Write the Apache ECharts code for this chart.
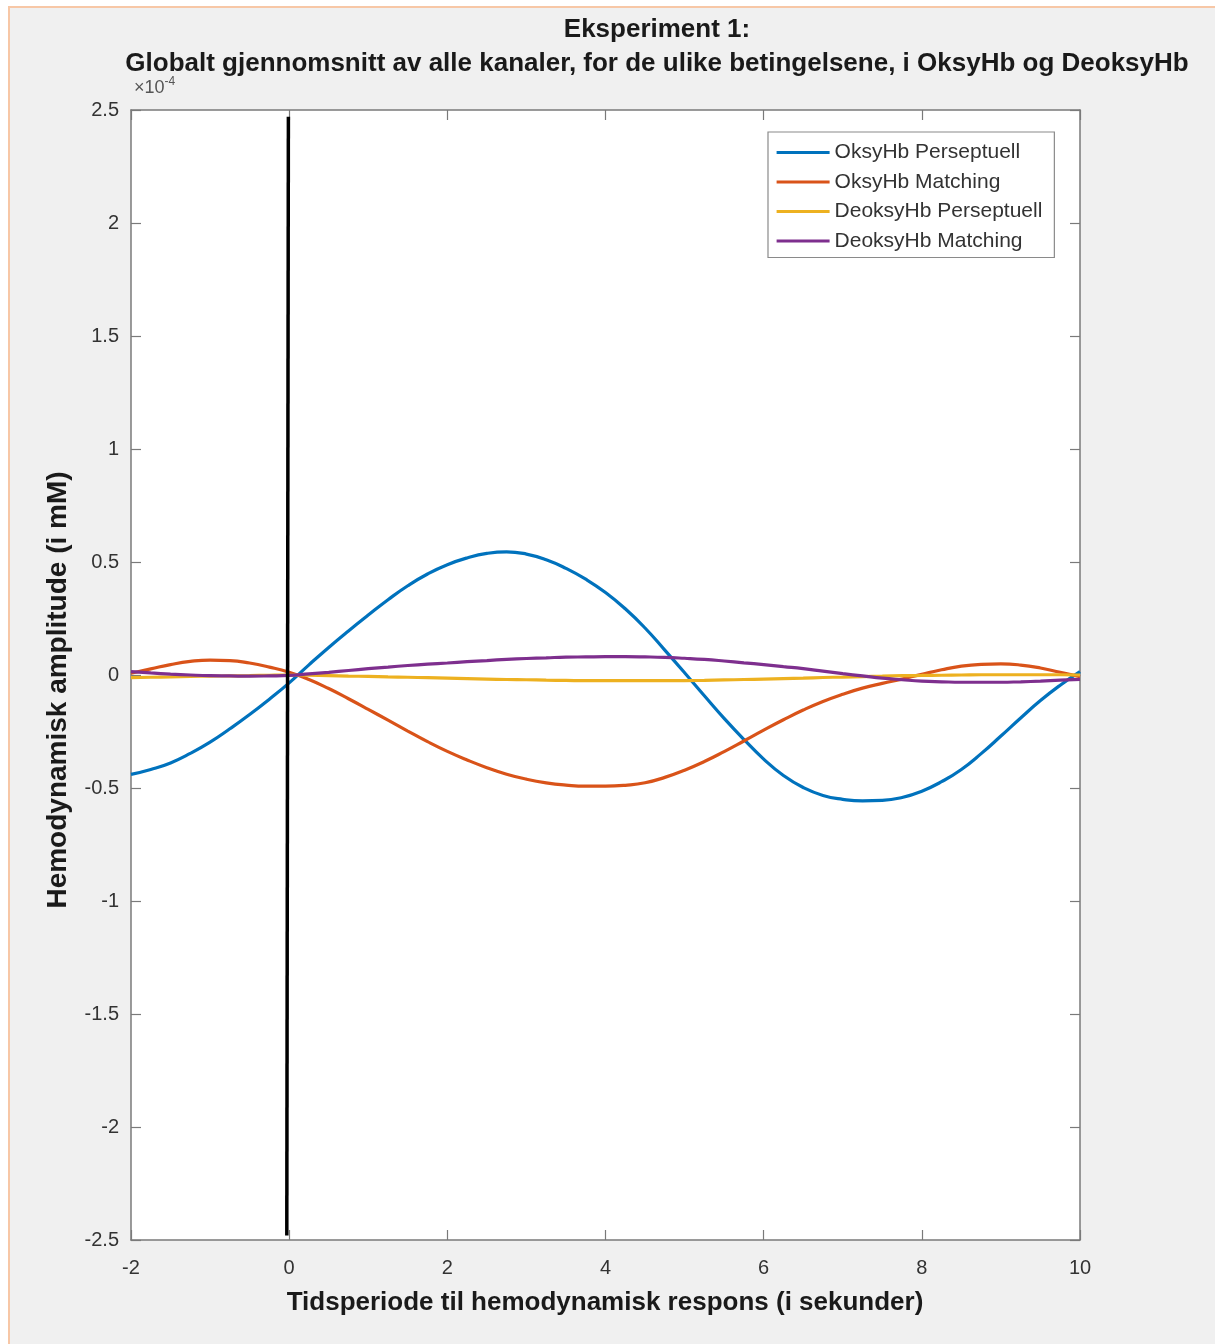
<!DOCTYPE html>
<html>
<head>
<meta charset="utf-8">
<script src="https://cdn.jsdelivr.net/npm/echarts@6/dist/echarts.min.js"></script>
<style>
  html, body { margin: 0; padding: 0; background: #ffffff; }
  #bg { position: absolute; left: 8px; top: 6px; width: 1207px; height: 1338px; background: #f0f0f0; border-left: 2px solid #f7c7a6; border-top: 2px solid #f7c7a6; box-sizing: border-box; }
  #chart { position: absolute; left: 0; top: 0; width: 1215px; height: 1344px; }
</style>
</head>
<body>
<div id="bg"></div>
<div id="chart"></div>
<script>
// Time (seconds)
const timeSec = [-2, -1.75, -1.5, -1.25, -1, -0.75, -0.5, -0.25, 0, 0.25, 0.5, 0.75, 1, 1.25, 1.5, 1.75, 2, 2.25, 2.5, 2.75, 3, 3.25, 3.5, 3.75, 4, 4.25, 4.5, 4.75, 5, 5.25, 5.5, 5.75, 6, 6.25, 6.5, 6.75, 7, 7.25, 7.5, 7.75, 8, 8.25, 8.5, 8.75, 9, 9.25, 9.5, 9.75, 10];
// Amplitudes in units of 1e-4 mM
const oksyPerseptuell = [-0.44, -0.418, -0.389, -0.347, -0.297, -0.238, -0.175, -0.107, -0.035, 0.045, 0.122, 0.195, 0.265, 0.333, 0.395, 0.447, 0.488, 0.518, 0.538, 0.545, 0.535, 0.51, 0.472, 0.424, 0.365, 0.293, 0.208, 0.11, 0.01, -0.092, -0.192, -0.285, -0.372, -0.445, -0.498, -0.533, -0.55, -0.557, -0.555, -0.542, -0.514, -0.472, -0.418, -0.348, -0.27, -0.19, -0.113, -0.045, 0.015];
const oksyMatching = [0.008, 0.027, 0.046, 0.06, 0.066, 0.064, 0.053, 0.035, 0.012, -0.02, -0.06, -0.105, -0.152, -0.2, -0.248, -0.295, -0.338, -0.376, -0.41, -0.439, -0.461, -0.477, -0.487, -0.492, -0.492, -0.488, -0.477, -0.453, -0.421, -0.383, -0.339, -0.292, -0.244, -0.198, -0.155, -0.117, -0.085, -0.058, -0.037, -0.018, 0.003, 0.023, 0.039, 0.047, 0.049, 0.044, 0.031, 0.012, -0.007];
const deoksyPerseptuell = [-0.012, -0.01, -0.008, -0.006, -0.005, -0.004, -0.003, -0.001, 0, -0.001, -0.003, -0.005, -0.006, -0.008, -0.01, -0.012, -0.014, -0.016, -0.018, -0.02, -0.021, -0.023, -0.024, -0.025, -0.025, -0.025, -0.025, -0.025, -0.025, -0.024, -0.022, -0.02, -0.018, -0.016, -0.014, -0.011, -0.009, -0.007, -0.005, -0.003, -0.002, -0.001, 0, 0.001, 0.001, 0.001, 0.001, 0.001, 0];
const deoksyMatching = [0.015, 0.009, 0.004, 0, -0.003, -0.004, -0.005, -0.004, -0.002, 0.005, 0.012, 0.02, 0.028, 0.035, 0.042, 0.048, 0.053, 0.059, 0.064, 0.069, 0.073, 0.076, 0.079, 0.08, 0.081, 0.081, 0.08, 0.078, 0.074, 0.069, 0.062, 0.054, 0.046, 0.037, 0.028, 0.017, 0.006, -0.004, -0.014, -0.021, -0.027, -0.03, -0.032, -0.032, -0.032, -0.03, -0.027, -0.023, -0.019];
// Vertical onset marker endpoints
const onsetX = [-0.01, -0.03];
const onsetY = [2.47, -2.48];

const seriesNames = ['OksyHb Perseptuell', 'OksyHb Matching', 'DeoksyHb Perseptuell', 'DeoksyHb Matching'];
const seriesValues = [oksyPerseptuell, oksyMatching, deoksyPerseptuell, deoksyMatching];
const seriesColors = ['#0072BD', '#D95319', '#EDB120', '#7E2F8E'];

const xTicks = { min: -2, max: 10, interval: 2 };
const yTicks = { min: -2.5, max: 2.5, interval: 0.5 };

const font = 'Liberation Sans, Arial, Helvetica, sans-serif';
const axisColor = '#7a7a7a';
const textColor = '#333333';

function axisCommon(showLabel, position) {
  return {
    position: position,
    axisLine: { show: true, onZero: false, lineStyle: { color: axisColor, width: 1.5 } },
    axisTick: { show: true, inside: true, length: 10, lineStyle: { color: axisColor, width: 1.2 } },
    splitLine: { show: false },
    axisLabel: { show: showLabel, color: textColor, fontSize: 20, fontFamily: font }
  };
}

const chart = echarts.init(document.getElementById('chart'), null, { renderer: 'canvas' });

const lineSeries = seriesNames.map((name, i) => ({
  name: name,
  type: 'line',
  data: timeSec.map((t, j) => [t, seriesValues[i][j]]),
  smooth: 0.5,
  showSymbol: false,
  symbol: 'none',
  color: seriesColors[i],
  lineStyle: { width: 3.2, color: seriesColors[i] },
  z: 3
}));

lineSeries.push({
  name: 'onset',
  type: 'line',
  data: onsetX.map((x, i) => [x, onsetY[i]]),
  showSymbol: false,
  symbol: 'none',
  lineStyle: { width: 3.5, color: '#000000' },
  z: 4,
  silent: true
});

const option = {
  animation: false,
  backgroundColor: 'transparent',
  title: {
    text: 'Eksperiment 1:\nGlobalt gjennomsnitt av alle kanaler, for de ulike betingelsene, i OksyHb og DeoksyHb',
    left: 657,
    top: 13,
    padding: 0,
    textAlign: 'center',
    textStyle: { fontFamily: font, fontSize: 26, fontWeight: 'bold', color: '#1a1a1a', lineHeight: 34 }
  },
  grid: {
    left: 131, right: 135, top: 110, bottom: 104,
    show: true, backgroundColor: '#ffffff', borderWidth: 0
  },
  legend: {
    data: seriesNames,
    orient: 'vertical',
    left: 768,
    top: 132,
    padding: [10, 12, 6, 7],
    itemGap: 8.5,
    itemWidth: 53,
    itemHeight: 21,
    backgroundColor: '#ffffff',
    borderColor: '#8a8a8a',
    borderWidth: 1.2,
    itemStyle: { opacity: 0 },
    lineStyle: { width: 3.2 },
    textStyle: { fontFamily: font, fontSize: 21, color: textColor }
  },
  xAxis: [
    Object.assign({ type: 'value', min: xTicks.min, max: xTicks.max, interval: xTicks.interval }, axisCommon(true, 'bottom'), {
      axisLabel: { show: true, color: textColor, fontSize: 20, fontFamily: font, margin: 18 }
    }),
    Object.assign({ type: 'value', min: xTicks.min, max: xTicks.max, interval: xTicks.interval }, axisCommon(false, 'top'))
  ],
  yAxis: [
    Object.assign({ type: 'value', min: yTicks.min, max: yTicks.max, interval: yTicks.interval }, axisCommon(true, 'left'), {
      axisLabel: { show: true, color: textColor, fontSize: 20, fontFamily: font, margin: 12 }
    }),
    Object.assign({ type: 'value', min: yTicks.min, max: yTicks.max, interval: yTicks.interval }, axisCommon(false, 'right'))
  ],
  graphic: [
    {
      type: 'text',
      x: 605, y: 1303,
      style: {
        text: 'Tidsperiode til hemodynamisk respons (i sekunder)',
        fontFamily: font, fontSize: 26, fontWeight: 'bold', fill: '#1a1a1a',
        align: 'center', verticalAlign: 'middle'
      }
    },
    {
      type: 'text',
      x: 58, y: 690,
      rotation: Math.PI / 2,
      style: {
        text: 'Hemodynamisk amplitude (i mM)',
        fontFamily: font, fontSize: 28, fontWeight: 'bold', fill: '#1a1a1a',
        align: 'center', verticalAlign: 'middle'
      }
    },
    {
      type: 'text',
      x: 134, y: 100,
      style: {
        text: '{a|×10}{b|-4}',
        verticalAlign: 'bottom',
        rich: {
          a: { fontFamily: font, fontSize: 18, fill: '#555555' },
          b: { fontFamily: font, fontSize: 12, fill: '#555555', verticalAlign: 'top', padding: [0, 0, 12, 0] }
        }
      }
    }
  ],
  series: lineSeries
};

chart.setOption(option);
</script>
</body>
</html>
